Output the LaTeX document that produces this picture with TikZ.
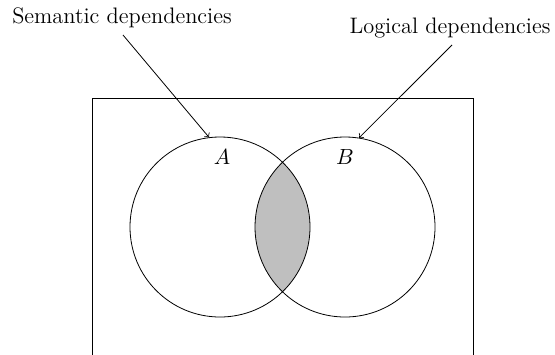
\documentclass[tikz,border=0pt]{standalone}
\begin{document}
\begin{tikzpicture}[x=0.5pt,y=-0.5pt,
  setcircle/.style={circle,draw,minimum size=90pt,inner sep=0pt},
  lbl/.style={inner sep=0pt,anchor=center,font=\fontsize{11.2}{13}\selectfont},
  pointer/.style={->}]
\useasboundingbox (0,0) rectangle (555,354);
\coordinate (ca) at (220,227);
\coordinate (cb) at (345,227);
\begin{scope}
  \clip (ca) circle[radius=45pt];
  \fill[lightgray] (cb) circle[radius=45pt];
\end{scope}
\node[setcircle] (A) at (ca) {};
\node[setcircle] (B) at (cb) {};
\draw (92,360) -- (92,98) -- (473,98) -- (473,360);
\node[lbl] (la) at (222,157) {$A$};
\node[lbl] (lb) at (345,157) {$B$};
\node[lbl] (sem) at (122,18) {Semantic dependencies};
\node[lbl] (log) at (450,28) {Logical dependencies};
\coordinate (s1) at (123,35);
\coordinate (l1) at (452,45);
\draw[pointer] (s1) -- (A.97);
\draw[pointer] (l1) -- (B.81);
\end{tikzpicture}
\end{document}
